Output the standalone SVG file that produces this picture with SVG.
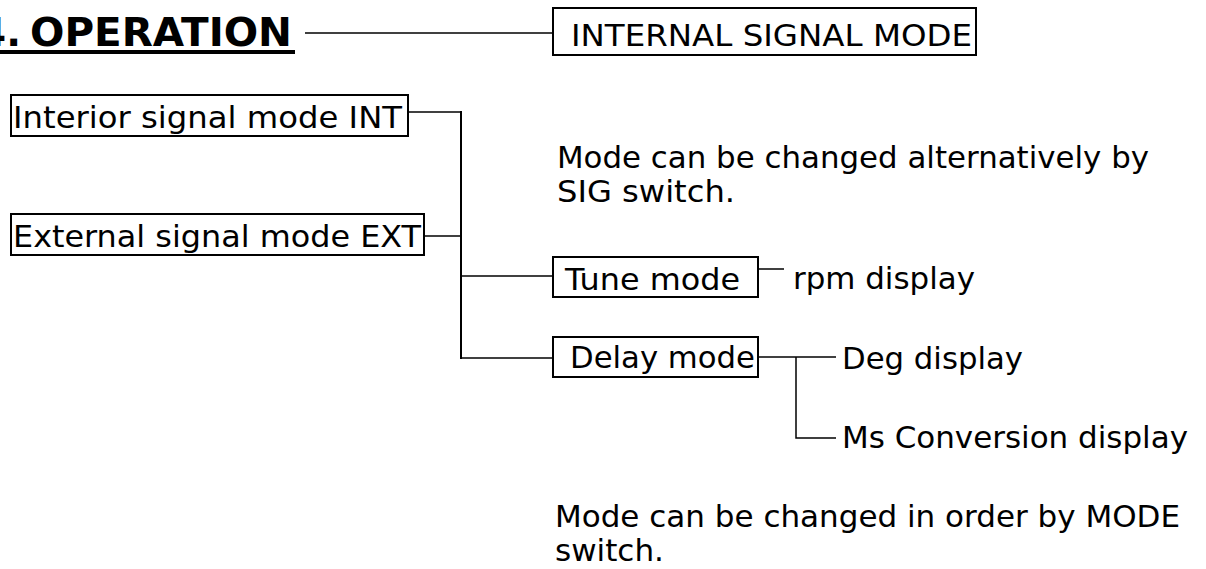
<svg xmlns="http://www.w3.org/2000/svg" width="1206" height="569" viewBox="0 0 1206 569">
<style>
  .box { fill: #fff; stroke: #000; stroke-width: 2; }
  .t { font-family: "DejaVu Sans", Verdana, sans-serif; font-size: 31px; fill: #000; }
  .title { font-family: "DejaVu Sans", Verdana, sans-serif; font-size: 39px; font-weight: bold; fill: #000; }
  .c { fill: none; stroke: #000; stroke-width: 1.5; }
  .cv { fill: none; stroke: #000; stroke-width: 2; }
</style>
<rect width="1206" height="569" fill="#fff"/>

<g id="connectors">
  <line class="c" x1="305" y1="33" x2="553" y2="33"/>
  <line class="c" x1="408" y1="112" x2="461" y2="112"/>
  <line class="c" x1="424" y1="236" x2="461" y2="236"/>
  <line class="cv" x1="461" y1="111" x2="461" y2="359"/>
  <line class="c" x1="461" y1="276" x2="553" y2="276"/>
  <line class="c" x1="461" y1="358" x2="553" y2="358"/>
  <line class="c" x1="758" y1="269" x2="784" y2="269"/>
  <line class="c" x1="758" y1="357" x2="836" y2="357"/>
  <polyline class="c" points="796,357 796,438 836,438"/>
</g>

<g id="title">
  <text class="title" x="21" y="46" text-anchor="end">4.</text>
  <text class="title" x="30" y="46" textLength="262" lengthAdjust="spacingAndGlyphs">OPERATION</text>
  <rect x="-10" y="50" width="305" height="4" fill="#000"/>
</g>

<g id="internal-signal-mode">
  <rect class="box" x="553" y="8" width="423" height="47"/>
  <text class="t" x="571" y="46" textLength="401" lengthAdjust="spacingAndGlyphs">INTERNAL SIGNAL MODE</text>
</g>

<g id="interior-int">
  <rect class="box" x="11" y="95" width="397" height="41"/>
  <text class="t" x="13" y="128" textLength="389" lengthAdjust="spacingAndGlyphs">Interior signal mode INT</text>
</g>

<g id="external-ext">
  <rect class="box" x="11" y="214" width="413" height="41"/>
  <text class="t" x="13" y="247" textLength="408" lengthAdjust="spacingAndGlyphs">External signal mode EXT</text>
</g>

<g id="note-sig">
  <text class="t" x="557" y="168" textLength="592" lengthAdjust="spacingAndGlyphs">Mode can be changed alternatively by</text>
  <text class="t" x="557" y="202" textLength="178" lengthAdjust="spacingAndGlyphs">SIG switch.</text>
</g>

<g id="tune-mode">
  <rect class="box" x="553" y="257" width="205" height="40"/>
  <text class="t" x="565" y="290" textLength="175" lengthAdjust="spacingAndGlyphs">Tune mode</text>
</g>

<g id="rpm-display">
  <text class="t" x="793" y="289" textLength="182" lengthAdjust="spacingAndGlyphs">rpm display</text>
</g>

<g id="delay-mode">
  <rect class="box" x="553" y="337" width="205" height="40"/>
  <text class="t" x="570" y="368" textLength="185" lengthAdjust="spacingAndGlyphs">Delay mode</text>
</g>

<g id="deg-display">
  <text class="t" x="842" y="369" textLength="181" lengthAdjust="spacingAndGlyphs">Deg display</text>
</g>

<g id="ms-display">
  <text class="t" x="842" y="448" textLength="346" lengthAdjust="spacingAndGlyphs">Ms Conversion display</text>
</g>

<g id="note-mode">
  <text class="t" x="555" y="527" textLength="625" lengthAdjust="spacingAndGlyphs">Mode can be changed in order by MODE</text>
  <text class="t" x="555" y="561" textLength="109" lengthAdjust="spacingAndGlyphs">switch.</text>
</g>
</svg>
